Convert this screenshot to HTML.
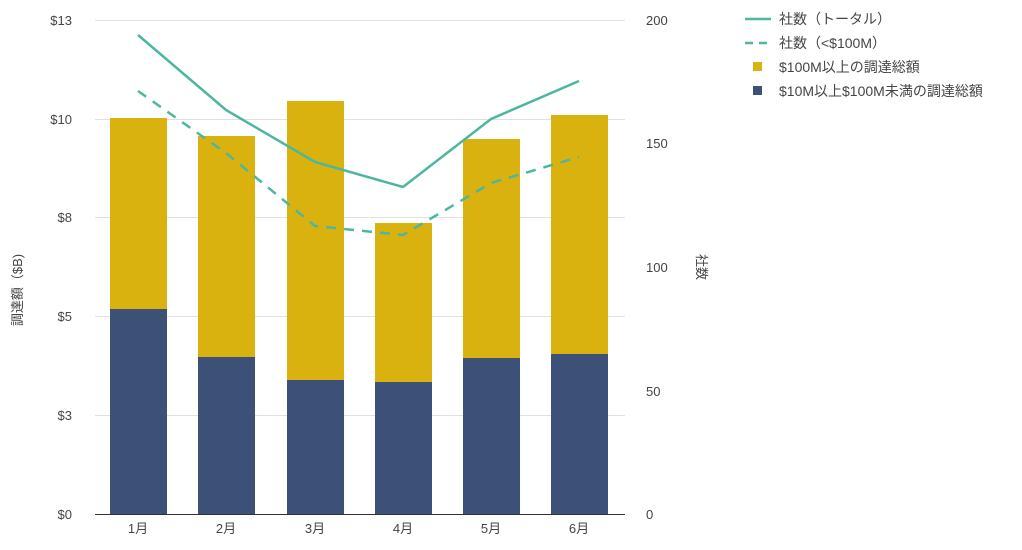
<!DOCTYPE html>
<html><head><meta charset="utf-8"><style>
body{margin:0;background:#fff;}
text{font-family:"Liberation Sans","Noto Sans CJK JP",sans-serif;fill:#444;font-size:13px;}
</style></head><body>
<svg width="1022" height="545" xmlns="http://www.w3.org/2000/svg">
<g stroke="#e0e0e0" stroke-width="1">
<line x1="95" y1="20.5" x2="625" y2="20.5"/>
<line x1="95" y1="119.5" x2="625" y2="119.5"/>
<line x1="95" y1="217.5" x2="625" y2="217.5"/>
<line x1="95" y1="316.5" x2="625" y2="316.5"/>
<line x1="95" y1="415.5" x2="625" y2="415.5"/>
</g>
<line x1="95" y1="514.5" x2="625" y2="514.5" stroke="#333"/>
<g text-anchor="end">
<text x="72" y="25">$13</text><text x="72" y="124">$10</text><text x="72" y="222">$8</text>
<text x="72" y="321">$5</text><text x="72" y="420">$3</text><text x="72" y="519">$0</text>
</g>
<g>
<text x="646" y="25">200</text><text x="646" y="148">150</text><text x="646" y="272">100</text>
<text x="646" y="396">50</text><text x="646" y="519">0</text>
</g>
<text transform="translate(22,290) rotate(-90)" text-anchor="middle">調達額（$B)</text>
<text transform="translate(697,267) rotate(90)" text-anchor="middle">社数</text>
<g fill="#d9b20f">
<rect x="110" y="118" width="57" height="191"/>
<rect x="198" y="136" width="57" height="221"/>
<rect x="287" y="101" width="57" height="279"/>
<rect x="375" y="223" width="57" height="159"/>
<rect x="463" y="139" width="57" height="219"/>
<rect x="551" y="115" width="57" height="239"/>
</g>
<g fill="#3d5078">
<rect x="110" y="309" width="57" height="205"/>
<rect x="198" y="357" width="57" height="157"/>
<rect x="287" y="380" width="57" height="134"/>
<rect x="375" y="382" width="57" height="132"/>
<rect x="463" y="358" width="57" height="156"/>
<rect x="551" y="354" width="57" height="160"/>
</g>
<g text-anchor="middle">
<text x="138" y="533">1月</text><text x="226" y="533">2月</text><text x="315" y="533">3月</text>
<text x="403" y="533">4月</text><text x="491" y="533">5月</text><text x="579" y="533">6月</text>
</g>
<polyline fill="none" stroke="#4db6a0" stroke-width="2.5" points="138,35 226,110 315,162 403,187 491,119 579,81"/>
<polyline fill="none" stroke="#4db6a0" stroke-width="2.5" stroke-dasharray="10,8" points="138,91 226,153 315,226 403,235 491,183 579,157"/>
<line x1="745" y1="19" x2="771" y2="19" stroke="#4db6a0" stroke-width="2.5"/>
<line x1="745" y1="43" x2="771" y2="43" stroke="#4db6a0" stroke-width="2.5" stroke-dasharray="8,6"/>
<rect x="753" y="62" width="9" height="9" fill="#d9b20f"/>
<rect x="753" y="86" width="9" height="9" fill="#3d5078"/>
<g style="font-size:14px">
<text x="779" y="24" style="font-size:14px">社数（トータル）</text>
<text x="779" y="48" style="font-size:14px">社数（&lt;$100M）</text>
<text x="779" y="72" style="font-size:14px">$100M以上の調達総額</text>
<text x="779" y="96" style="font-size:14px">$10M以上$100M未満の調達総額</text>
</g>
</svg>
</body></html>
